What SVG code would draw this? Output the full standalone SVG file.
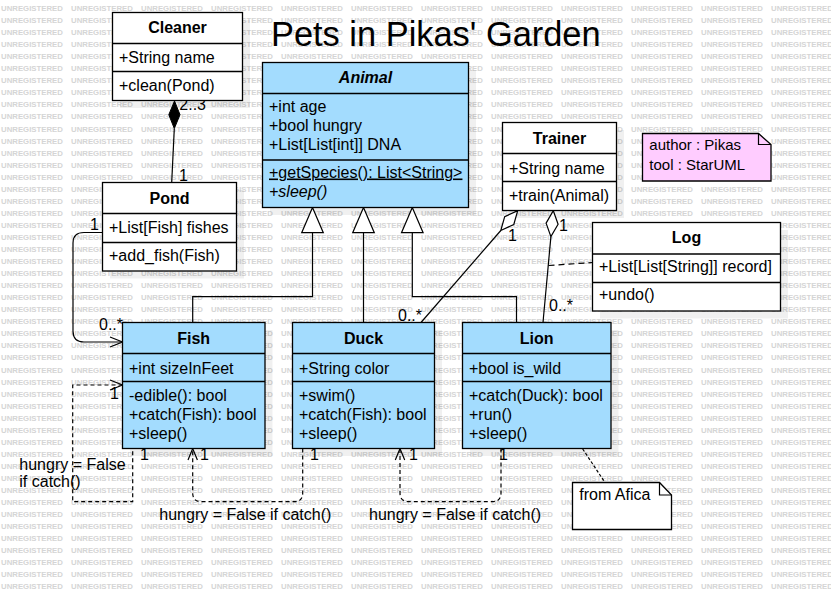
<svg xmlns="http://www.w3.org/2000/svg" xmlns:xlink="http://www.w3.org/1999/xlink" width="831" height="600" viewBox="0 0 831 600">
<style>
text{font-family:"Liberation Sans",Arial,Helvetica,sans-serif;font-size:16px;fill:#000}
.wm{font-size:7.8px;font-weight:bold;fill:#d5d5d5}
.box{stroke:#000;stroke-width:1.3}
.blue{fill:#a3dcfe}
.white{fill:#fff}
.shadow{fill:#000;fill-opacity:0.06}
.sep{stroke:#000;stroke-width:1.3}
.hd{font-weight:bold;text-anchor:middle}
.ln{fill:none;stroke:#000;stroke-width:1.2}
.dash{fill:none;stroke:#000;stroke-width:1.2;stroke-dasharray:4 3}
.note{font-size:15px}
</style>
<defs>
<text id="wmrow" class="wm" y="11"><tspan x="1">UNREGISTERED</tspan><tspan x="71">UNREGISTERED</tspan><tspan x="141">UNREGISTERED</tspan><tspan x="211">UNREGISTERED</tspan><tspan x="281">UNREGISTERED</tspan><tspan x="351">UNREGISTERED</tspan><tspan x="421">UNREGISTERED</tspan><tspan x="491">UNREGISTERED</tspan><tspan x="561">UNREGISTERED</tspan><tspan x="631">UNREGISTERED</tspan><tspan x="701">UNREGISTERED</tspan><tspan x="771">UNREGISTERED</tspan></text>
</defs>
<rect width="831" height="600" fill="#fff"/>
<g id="watermark">
<use xlink:href="#wmrow"/>
<use xlink:href="#wmrow" y="12.05"/><use xlink:href="#wmrow" y="24.1"/><use xlink:href="#wmrow" y="36.15"/><use xlink:href="#wmrow" y="48.2"/><use xlink:href="#wmrow" y="60.25"/><use xlink:href="#wmrow" y="72.3"/><use xlink:href="#wmrow" y="84.35"/><use xlink:href="#wmrow" y="96.4"/><use xlink:href="#wmrow" y="108.45"/><use xlink:href="#wmrow" y="120.5"/><use xlink:href="#wmrow" y="132.55"/><use xlink:href="#wmrow" y="144.6"/><use xlink:href="#wmrow" y="156.65"/><use xlink:href="#wmrow" y="168.7"/><use xlink:href="#wmrow" y="180.75"/><use xlink:href="#wmrow" y="192.8"/><use xlink:href="#wmrow" y="204.85"/><use xlink:href="#wmrow" y="216.9"/><use xlink:href="#wmrow" y="228.95"/><use xlink:href="#wmrow" y="241"/><use xlink:href="#wmrow" y="253.05"/><use xlink:href="#wmrow" y="265.1"/><use xlink:href="#wmrow" y="277.15"/><use xlink:href="#wmrow" y="289.2"/><use xlink:href="#wmrow" y="301.25"/><use xlink:href="#wmrow" y="313.3"/><use xlink:href="#wmrow" y="325.35"/><use xlink:href="#wmrow" y="337.4"/><use xlink:href="#wmrow" y="349.45"/><use xlink:href="#wmrow" y="361.5"/><use xlink:href="#wmrow" y="373.55"/><use xlink:href="#wmrow" y="385.6"/><use xlink:href="#wmrow" y="397.65"/><use xlink:href="#wmrow" y="409.7"/><use xlink:href="#wmrow" y="421.75"/><use xlink:href="#wmrow" y="433.8"/><use xlink:href="#wmrow" y="445.85"/><use xlink:href="#wmrow" y="457.9"/><use xlink:href="#wmrow" y="469.95"/><use xlink:href="#wmrow" y="482"/><use xlink:href="#wmrow" y="494.05"/><use xlink:href="#wmrow" y="506.1"/><use xlink:href="#wmrow" y="518.15"/><use xlink:href="#wmrow" y="530.2"/><use xlink:href="#wmrow" y="542.25"/><use xlink:href="#wmrow" y="554.3"/><use xlink:href="#wmrow" y="566.35"/><use xlink:href="#wmrow" y="578.4"/>
</g>
<g id="shadows">
<rect class="shadow" x="120" y="20" width="130" height="88"/>
<rect class="shadow" x="270" y="70" width="206" height="145"/>
<rect class="shadow" x="110" y="190" width="134" height="88.5"/>
<rect class="shadow" x="510" y="130" width="114" height="88"/>
<rect class="shadow" x="600" y="230" width="188" height="88.5"/>
<rect class="shadow" x="130" y="330" width="142.5" height="126"/>
<rect class="shadow" x="300" y="330" width="142" height="126"/>
<rect class="shadow" x="470" y="330" width="148.5" height="126"/>
</g>
<text id="title" x="271" y="46" style="font-size:34.4px">Pets in Pikas' Garden</text>
<g id="connectors">
<line class="ln" x1="174.3" y1="128.5" x2="171.7" y2="182.5"/>
<polygon points="174.5,101 180,114.7 174.3,128.5 168.8,114.7" fill="#000" stroke="#000" stroke-width="1"/>
<polyline class="ln" points="192.7,322.5 192.7,296.7 312.5,296.7 312.5,232.7"/>
<polygon points="312.5,207.5 301.7,232.7 323.3,232.7" fill="#fff" stroke="#000" stroke-width="1.2"/>
<line class="ln" x1="363.5" y1="322.5" x2="363.5" y2="232.7"/>
<polygon points="363.5,207.5 352.7,232.7 374.3,232.7" fill="#fff" stroke="#000" stroke-width="1.2"/>
<polyline class="ln" points="516.5,322.5 516.5,296.7 412.3,296.7 412.3,232.7"/>
<polygon points="412.3,207.5 401.5,232.7 423.1,232.7" fill="#fff" stroke="#000" stroke-width="1.2"/>
<line class="ln" x1="500.8" y1="230.5" x2="421" y2="322.5"/>
<polygon points="517.7,210.7 513.8,224.5 500.8,230.5 504.7,216.7" fill="#fff" stroke="#000" stroke-width="1.2"/>
<line class="ln" x1="550.9" y1="236.6" x2="543" y2="322.5"/>
<polygon points="553.3,210.7 558.1,224.2 550.9,236.6 546.1,223.1" fill="#fff" stroke="#000" stroke-width="1.2"/>
<line class="dash" x1="548.5" y1="265.5" x2="592.5" y2="262.5" style="stroke-dasharray:6 4"/>
<path class="ln" d="M102.5,232.5 H84 Q73,232.5 73,243 V331 Q73,342 84,342 H122.5"/>
<polyline class="ln" points="110,337 122.5,342 110,347"/>
<polyline class="dash" points="122.5,385 72.7,385 72.7,501.7 132.7,501.7 132.7,448.5"/>
<polyline class="ln" points="110,380 122.5,385 110,390"/>
<path class="dash" d="M302.7,448.5 V493 Q302.7,501.7 294,501.7 H201.5 Q192.7,501.7 192.7,493 V448.5"/>
<polyline class="ln" points="188,460 192.7,448.5 197.4,460"/>
<path class="dash" d="M501,448.5 V493 Q501,501.7 492,501.7 H409 Q400,501.7 400,493 V448.5"/>
<polyline class="ln" points="395.3,460 400,448.5 404.7,460"/>
<line class="dash" x1="582.7" y1="449" x2="605" y2="482.5" style="stroke-dasharray:3 2"/>
</g>
<g id="labels">
<text x="179.3" y="110">2..3</text>
<text x="179" y="181">1</text>
<text x="90" y="230">1</text>
<text x="99" y="330">0..*</text>
<text x="508" y="241">1</text>
<text x="398" y="321">0..*</text>
<text x="559" y="231">1</text>
<text x="549" y="311">0..*</text>
<text x="110" y="399">1</text>
<text x="140" y="460">1</text>
<text x="19.3" y="470">hungry = False</text>
<text x="19.3" y="487">if catch()</text>
<text x="200" y="460">1</text>
<text x="310" y="460">1</text>
<text x="159.3" y="520">hungry = False if catch()</text>
<text x="409" y="460">1</text>
<text x="499" y="460">1</text>
<text x="369" y="520">hungry = False if catch()</text>
</g>
<g id="Cleaner">
<rect class="box white" x="112.5" y="12.5" width="130" height="88"/>
<line class="sep" x1="112.5" y1="43.5" x2="242.5" y2="43.5"/>
<line class="sep" x1="112.5" y1="71.5" x2="242.5" y2="71.5"/>
<text class="hd" x="177.5" y="33">Cleaner</text>
<text x="119" y="63">+String name</text>
<text x="119" y="91">+clean(Pond)</text>
</g>
<g id="Animal">
<rect class="box blue" x="262.5" y="62.5" width="206" height="145"/>
<line class="sep" x1="262.5" y1="93.5" x2="468.5" y2="93.5"/>
<line class="sep" x1="262.5" y1="160" x2="468.5" y2="160"/>
<text class="hd" x="365.5" y="83" font-style="italic">Animal</text>
<text x="269" y="111.5">+int age</text>
<text x="269" y="130.5">+bool hungry</text>
<text x="269" y="149.5">+List[List[int]] DNA</text>
<text x="269" y="177.5" text-decoration="underline">+getSpecies(): List&lt;String&gt;</text>
<text x="269" y="196.5" font-style="italic">+sleep()</text>
</g>
<g id="Pond">
<rect class="box white" x="102.5" y="182.5" width="134" height="88.5"/>
<line class="sep" x1="102.5" y1="213.5" x2="236.5" y2="213.5"/>
<line class="sep" x1="102.5" y1="242.5" x2="236.5" y2="242.5"/>
<text class="hd" x="169.5" y="203.5">Pond</text>
<text x="109" y="233">+List[Fish] fishes</text>
<text x="109" y="261">+add_fish(Fish)</text>
</g>
<g id="Trainer">
<rect class="box white" x="502.5" y="122.5" width="114" height="88"/>
<line class="sep" x1="502.5" y1="153.5" x2="616.5" y2="153.5"/>
<line class="sep" x1="502.5" y1="181.5" x2="616.5" y2="181.5"/>
<text class="hd" x="559.5" y="143.5">Trainer</text>
<text x="509" y="173.5">+String name</text>
<text x="509" y="201">+train(Animal)</text>
</g>
<g id="Log">
<rect class="box white" x="592.5" y="222.5" width="188" height="88.5"/>
<line class="sep" x1="592.5" y1="254" x2="780.5" y2="254"/>
<line class="sep" x1="592.5" y1="282.5" x2="780.5" y2="282.5"/>
<text class="hd" x="686.5" y="243">Log</text>
<text x="599" y="272">+List[List[String]] record]</text>
<text x="599" y="300">+undo()</text>
</g>
<g id="Fish">
<rect class="box blue" x="122.5" y="322.5" width="142.5" height="126"/>
<line class="sep" x1="122.5" y1="353.5" x2="265" y2="353.5"/>
<line class="sep" x1="122.5" y1="381.5" x2="265" y2="381.5"/>
<text class="hd" x="193.7" y="343.5">Fish</text>
<text x="129" y="373.5">+int sizeInFeet</text>
<text x="129" y="401">-edible(): bool</text>
<text x="129" y="419.5">+catch(Fish): bool</text>
<text x="129" y="438.5">+sleep()</text>
</g>
<g id="Duck">
<rect class="box blue" x="292.5" y="322.5" width="142" height="126"/>
<line class="sep" x1="292.5" y1="353.5" x2="434.5" y2="353.5"/>
<line class="sep" x1="292.5" y1="381.5" x2="434.5" y2="381.5"/>
<text class="hd" x="363.5" y="343.5">Duck</text>
<text x="299" y="373.5">+String color</text>
<text x="299" y="401">+swim()</text>
<text x="299" y="419.5">+catch(Fish): bool</text>
<text x="299" y="438.5">+sleep()</text>
</g>
<g id="Lion">
<rect class="box blue" x="462.5" y="322.5" width="148.5" height="126"/>
<line class="sep" x1="462.5" y1="353.5" x2="611" y2="353.5"/>
<line class="sep" x1="462.5" y1="381.5" x2="611" y2="381.5"/>
<text class="hd" x="536.7" y="343.5">Lion</text>
<text x="469" y="373.5">+bool is_wild</text>
<text x="469" y="401">+catch(Duck): bool</text>
<text x="469" y="419.5">+run()</text>
<text x="469" y="438.5">+sleep()</text>
</g>
<g id="NoteAuthor">
<path d="M642.5,133.5 H758.5 L771,144.5 V181 H642.5 Z" fill="#ffccff" stroke="#000" stroke-width="1.3"/>
<polyline points="758.5,133.5 758.5,144.5 771,144.5" fill="none" stroke="#000" stroke-width="1.2"/>
<text class="note" x="649.3" y="150">author : Pikas</text>
<text class="note" x="649.3" y="169.5">tool : StarUML</text>
</g>
<g id="NoteAfrica">
<path d="M572.5,482.5 H659.5 L671.5,495 V529.5 H572.5 Z" fill="#fff" stroke="#000" stroke-width="1.3"/>
<polyline points="659.5,482.5 659.5,495 671.5,495" fill="none" stroke="#000" stroke-width="1.2"/>
<text x="579.3" y="500">from Afica</text>
</g>
</svg>
